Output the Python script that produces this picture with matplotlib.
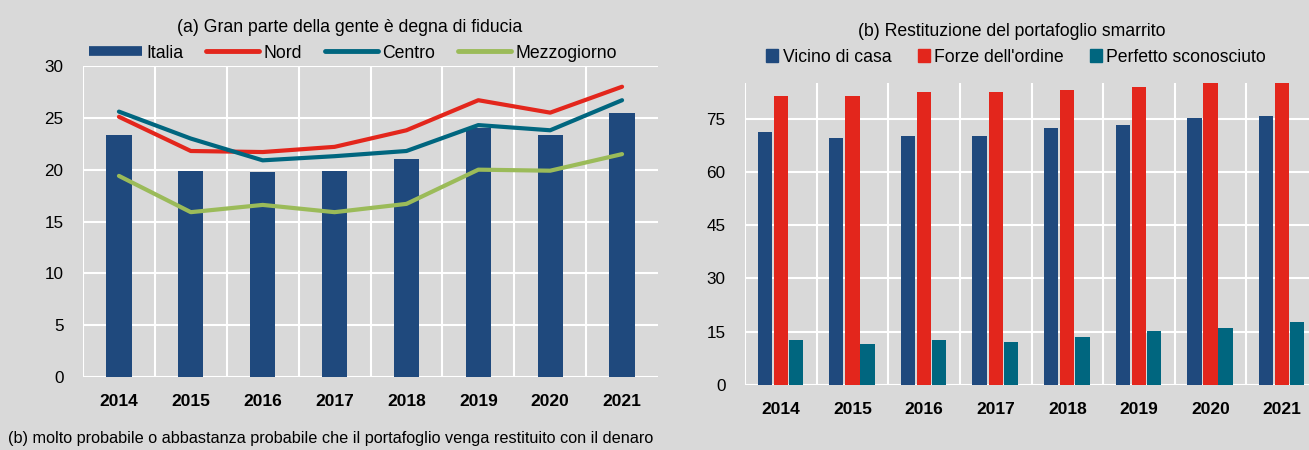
import matplotlib
matplotlib.use("Agg")
import matplotlib.pyplot as plt
import numpy as np
from matplotlib.patches import Patch
from matplotlib.lines import Line2D

years = ["2014", "2015", "2016", "2017", "2018", "2019", "2020", "2021"]

# Panel (a)
italia = [23.3, 19.9, 19.8, 19.9, 21.0, 24.0, 23.3, 25.5]
nord = [25.1, 21.8, 21.7, 22.2, 23.8, 26.7, 25.5, 28.0]
centro = [25.6, 23.0, 20.9, 21.3, 21.8, 24.3, 23.8, 26.7]
mezzogiorno = [19.4, 15.9, 16.6, 15.9, 16.7, 20.0, 19.9, 21.5]

# Panel (b)
vicino = [71.1, 69.6, 70.1, 70.1, 72.2, 73.2, 75.2, 75.7]
forze = [81.4, 81.4, 82.5, 82.5, 83.0, 84.0, 86.0, 86.0]
sconosciuto = [12.6, 11.5, 12.6, 12.1, 13.6, 15.1, 16.1, 17.6]

BG = "#D9D9D9"
NAVY = "#1F497D"
RED = "#E3261C"
TEAL = "#00667F"
GREEN = "#9BBB59"

plt.rcParams['font.family'] = ['Liberation Sans Narrow', 'Liberation Sans', 'DejaVu Sans']
plt.rcParams['font.size'] = 12

W, H = 1309, 450
fig = plt.figure(figsize=(W / 100, H / 100), dpi=100, facecolor=BG)

def box(l, r, b, t):
    return [l / W, (H - b) / H, (r - l) / W, (b - t) / H]

x = np.arange(len(years))

def style(ax, ylim, yticks):
    ax.set_facecolor(BG)
    for s in ax.spines.values():
        s.set_visible(False)
    ax.set_xlim(-0.5, len(years) - 0.5)
    ax.set_ylim(*ylim)
    ax.set_yticks(yticks)
    ax.set_xticks(x)
    ax.set_xticklabels(years, fontweight='bold', fontsize=12.5)
    ax.set_xticks(np.arange(-0.5, len(years) - 0.5, 1.0), minor=True)
    ax.tick_params(axis='both', which='both', length=0)
    ax.tick_params(axis='x', pad=12)
    ax.tick_params(axis='y', pad=14, labelsize=12.3)
    ax.grid(axis='y', which='major', color='white', lw=1.5)
    ax.grid(axis='x', which='minor', color='white', lw=1.5)
    ax.set_axisbelow(True)

# Left panel
ax1 = fig.add_axes(box(83, 658, 377, 66))
style(ax1, (0, 30), [0, 5, 10, 15, 20, 25, 30])
ax1.bar(x, italia, width=0.35, color=NAVY, zorder=2)
ax1.plot(x, nord, color=RED, lw=3, zorder=3, solid_capstyle='round')
ax1.plot(x, centro, color=TEAL, lw=3, zorder=3, solid_capstyle='round')
ax1.plot(x, mezzogiorno, color=GREEN, lw=3, zorder=3, solid_capstyle='round')
fig.text(350 / W, 1 - 28 / H, "(a) Gran parte della gente è degna di fiducia",
         ha='center', va='center', fontsize=12.7)
handles1 = [Line2D([], [], color=NAVY, lw=7, solid_capstyle='butt'),
            Line2D([], [], color=RED, lw=3.5, solid_capstyle='round'),
            Line2D([], [], color=TEAL, lw=3.5, solid_capstyle='round'),
            Line2D([], [], color=GREEN, lw=3.5, solid_capstyle='round')]
fig.legend(handles1, ["Italia", "Nord", "Centro", "Mezzogiorno"],
           loc='center', bbox_to_anchor=(353 / W, 1 - 53 / H), ncol=4,
           frameon=False, fontsize=12.7, handlelength=3.0, handletextpad=0.25,
           columnspacing=1.3, borderpad=0)

# Right panel
ax2 = fig.add_axes(box(745, 1318, 385, 83))
style(ax2, (0, 85), [0, 15, 30, 45, 60, 75])
bw = 0.2
ax2.bar(x - 0.225, vicino, width=bw, color=NAVY, zorder=2)
ax2.bar(x, forze, width=bw, color=RED, zorder=2)
ax2.bar(x + 0.21, sconosciuto, width=bw, color=TEAL, zorder=2)
fig.text(1012 / W, 1 - 31 / H, "(b) Restituzione del portafoglio smarrito",
         ha='center', va='center', fontsize=12.7)
handles2 = [Patch(color=NAVY), Patch(color=RED), Patch(color=TEAL)]
fig.legend(handles2, ["Vicino di casa", "Forze dell'ordine", "Perfetto sconosciuto"],
           loc='center', bbox_to_anchor=(1016 / W, 1 - 57 / H), ncol=3,
           frameon=False, fontsize=12.7, handlelength=0.68, handleheight=0.75,
           handletextpad=0.23, columnspacing=1.5, borderpad=0)

fig.text(8 / W, 1 - 438 / H,
         "(b) molto probabile o abbastanza probabile che il portafoglio venga restituito con il denaro",
         ha='left', va='center', fontsize=11.7)

fig.savefig("out.png", dpi=100, facecolor=BG)
